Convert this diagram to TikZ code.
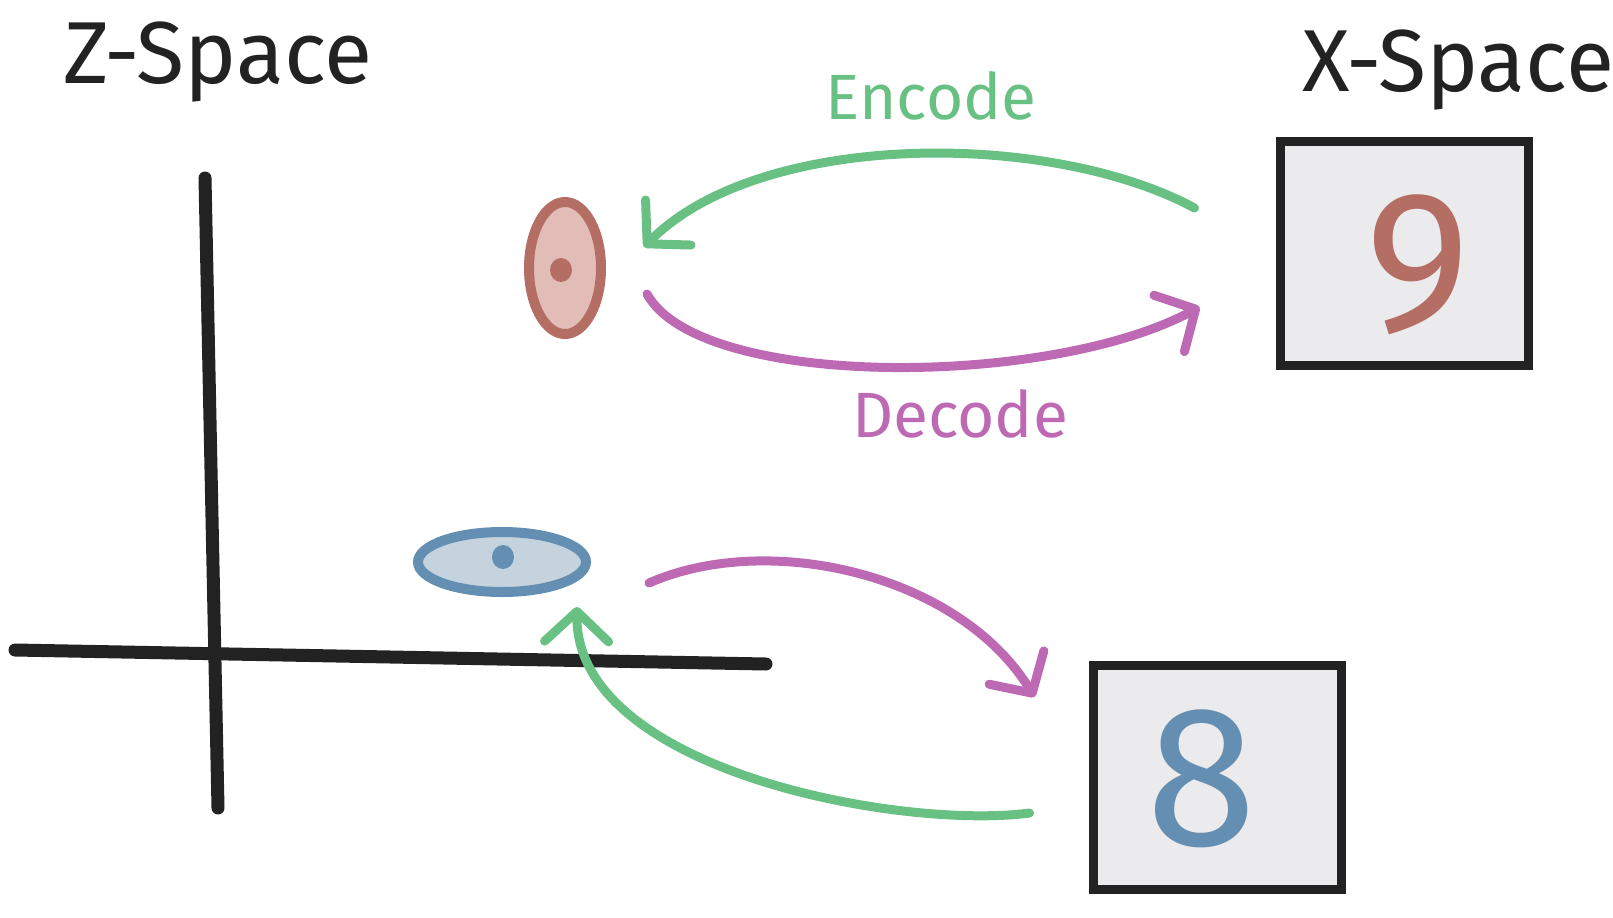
\documentclass[tikz,border=0pt]{standalone}
\usepackage{fontspec}
\setmainfont{Fira Sans}
\usepackage{xcolor}
\usepackage{tikz}
\usetikzlibrary{arrows.meta,positioning,shapes.geometric}
\definecolor{inkblack}{HTML}{222222}
\definecolor{encgreen}{HTML}{69C083}
\definecolor{decpink}{HTML}{BE69B4}
\definecolor{rustred}{HTML}{B56E64}
\definecolor{rustfill}{HTML}{E2BDB8}
\definecolor{steelblue}{HTML}{658FB2}
\definecolor{steelfill}{HTML}{C4D3DD}
\definecolor{boxgrey}{HTML}{EBEAEC}

\tikzset{
    axisline/.style={draw=inkblack, line width=6.5pt, line cap=round},
    latentblob/.style={ellipse, line width=5pt, inner sep=0pt},
    latentdot/.style={ellipse, inner sep=0pt, minimum width=11pt, minimum height=12pt},
    digitbox/.style={draw=inkblack, line width=4.5pt, fill=boxgrey,
                     minimum width=124pt, minimum height=112pt},
    digitmark/.style={font=\fontsize{100}{100}\selectfont, inner sep=0pt},
    flow/.style={line width=4.5pt, line cap=round,
                 -{Straight Barb[length=15pt, width=32pt, round]}},
    spacelabel/.style={font=\fontsize{44}{50}\selectfont, text=inkblack},
    flowlabel/.style={font=\fontsize{32}{38}\selectfont}
}

\begin{document}
\begin{tikzpicture}[x=0.5pt, y=-0.5pt]
        \useasboundingbox (0,0) rectangle (1613,917);

        % axes of the latent space
        \coordinate (ytop) at (205,178);
        \coordinate (ybot) at (218,808);
        \coordinate (xleft) at (15,650);
        \coordinate (xright) at (766,664);
        \draw[axisline] (ytop) -- (ybot);
        \draw[axisline] (xleft) -- (xright);

        % titles
        \node[spacelabel] (zspace) at (218,62) {Z-Space};
        \node[spacelabel] (xspace) at (1458,70) {X-Space};

        % latent codes
        \node[latentblob, draw=rustred, fill=rustfill,
              minimum width=36pt, minimum height=66pt] (nineblob) at (565,268) {};
        \node[latentdot, fill=rustred] (ninedot) at (561,270) {};
        \node[latentblob, draw=steelblue, fill=steelfill,
              minimum width=84pt, minimum height=30pt] (eightblob) at (502,562) {};
        \node[latentdot, fill=steelblue] (eightdot) at (503,557) {};

        % images
        \node[digitbox] (nine) at (1404,253) {};
        \node[digitmark, text=rustred] (ninedigit) at (1418,265) {9};
        \node[digitbox] (eight) at (1217,777) {};
        \node[digitmark, text=steelblue] (eightdigit) at (1202,779) {8};

        % encode / decode
        \draw[flow, encgreen] ([shift={(-81,-45)}]nine.west)
            .. controls (1050,130) and (760,130) .. ([shift={(38,-21)}]nineblob.east);
        \draw[flow, decpink] ([shift={(41,26)}]nineblob.east)
            .. controls (700,390) and (1050,388) .. ([shift={(-76,54)}]nine.west);
        \node[flowlabel, text=encgreen] (encodetop) at (931,96) {Encode};
        \node[flowlabel, text=decpink] (decodetop) at (960,414) {Decode};

        \draw[flow, decpink] ([shift={(58,21)}]eightblob.east)
            .. controls (770,530) and (960,575) .. ([shift={(-54,-80)}]eight.west);
        \draw[flow, encgreen] ([shift={(-59,36)}]eight.west)
            .. controls (900,830) and (575,770) .. ([shift={(-14,45)}]eightblob.east);
\end{tikzpicture}
\end{document}
